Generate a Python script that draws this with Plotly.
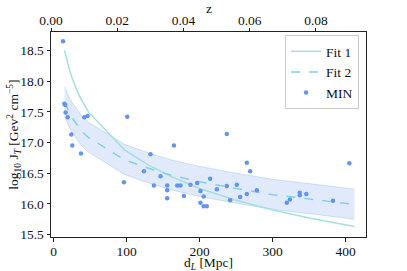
import plotly.graph_objects as go

# ---- data ----
dl_min = [12.9, 14.6, 16.0, 16.4, 19.2, 24.2, 25.6, 37.5, 42.0, 46.5, 96.3, 100.8,
          123.7, 132.7, 137.3, 146.4, 155.5, 155.5, 155.5, 164.7, 169.2, 173.7,
          178.4, 187.4, 196.6, 201.1, 201.1, 205.5, 205.5, 209.8, 214.4, 223.5,
          237.2, 237.2, 241.7, 250.9, 255.4, 264.6, 264.6, 269.1, 278.3, 319.3,
          323.6, 337.1, 337.1, 346.1, 382.6, 405.0]
logj_min = [18.65, 17.63, 17.61, 17.49, 17.41, 17.13, 16.95, 16.82, 17.41, 17.43, 16.35, 17.42,
            16.53, 16.81, 16.30, 16.45, 16.30, 16.22, 16.09, 16.95, 16.30, 16.30,
            16.13, 16.31, 16.34, 16.21, 16.02, 16.12, 15.96, 15.96, 16.41, 16.24,
            17.14, 16.29, 16.06, 16.31, 16.11, 16.67, 16.16, 16.53, 16.22, 16.02,
            16.07, 16.18, 16.14, 16.16, 16.05, 16.66]

dl_fit = [15, 17, 19, 22, 26, 31, 37, 43, 48, 97, 130, 160, 200, 250, 300, 350, 412]
fit1 = [18.50, 18.40, 18.30, 18.17, 18.03, 17.87, 17.72, 17.59, 17.49, 16.88, 16.63,
        16.45, 16.25, 16.06, 15.90, 15.77, 15.63]
fit2 = [17.66, 17.60, 17.54, 17.47, 17.39, 17.30, 17.21, 17.13, 17.08, 16.72, 16.58,
        16.47, 16.36, 16.25, 16.15, 16.08, 15.99]
fit2_hi = [17.91, 17.85, 17.79, 17.72, 17.64, 17.55, 17.46, 17.38, 17.33, 16.97, 16.83,
           16.72, 16.61, 16.50, 16.40, 16.33, 16.24]
fit2_lo = [17.42, 17.36, 17.30, 17.23, 17.15, 17.06, 16.97, 16.89, 16.84, 16.48, 16.34,
           16.23, 16.12, 16.01, 15.91, 15.84, 15.75]

y_ticks = [15.5, 16.0, 16.5, 17.0, 17.5, 18.0, 18.5]
x_ticks = [0, 100, 200, 300, 400]
z_ticks = [0.00, 0.02, 0.04, 0.06, 0.08]

FONT = "Liberation Serif"
FS = 13.5
BAND = "rgba(100,149,237,0.2)"

fig = go.Figure()

# confidence band
fig.add_trace(go.Scatter(x=dl_fit, y=fit2_lo, mode="lines",
                         line=dict(color="rgba(100,149,237,0.25)", width=1),
                         showlegend=False, hoverinfo="skip"))
fig.add_trace(go.Scatter(x=dl_fit, y=fit2_hi, mode="lines", fill="tonexty",
                         fillcolor=BAND,
                         line=dict(color="rgba(100,149,237,0.25)", width=1),
                         showlegend=False, hoverinfo="skip"))

fig.add_trace(go.Scatter(x=dl_fit, y=fit1, mode="lines", name="Fit 1",
                         line=dict(color="#a4e0dc", width=1.5)))
fig.add_trace(go.Scatter(x=dl_fit, y=fit2, mode="lines", name="Fit 2",
                         line=dict(color="#87ceeb", width=1.5, dash="dash")))
fig.add_trace(go.Scatter(x=dl_min, y=logj_min, mode="markers", name="MIN",
                         marker=dict(color="#6495ed", size=4.5)))

# dummy trace for the top (redshift) axis
fig.add_trace(go.Scatter(x=[0.0], y=[None], xaxis="x2", mode="markers",
                         showlegend=False, hoverinfo="skip"))

axis_common = dict(showgrid=False, zeroline=False, showline=True, automargin=False,
                   linecolor="#222", linewidth=1, ticks="outside", ticklen=3.5,
                   tickwidth=1, tickcolor="#222",
                   tickfont=dict(family=FONT, size=FS, color="#111"))

fig.update_layout(
    width=407, height=271,
    margin=dict(l=51, r=41, t=32, b=34, autoexpand=False),
    paper_bgcolor="white", plot_bgcolor="white",
    font=dict(family=FONT, size=FS, color="#111"),
    xaxis=dict(range=[-3.6, 427.8], tickvals=x_ticks, ticklabelstandoff=-2,
               **axis_common),
    xaxis2=dict(range=[0, 0.0951], overlaying="x", side="top",
                tickvals=z_ticks, tickformat=".2f", ticklabelstandoff=-3,
                **axis_common),
    yaxis=dict(range=[15.46, 18.80], tickvals=y_ticks, tickformat=".1f",
               mirror=True, **axis_common),
    legend=dict(x=0.978, xanchor="right", y=0.985, yanchor="top",
                traceorder="normal",
                bgcolor="rgba(255,255,255,0.85)", bordercolor="#cccccc",
                borderwidth=1, font=dict(family=FONT, size=FS),
                itemwidth=30),
    showlegend=True,
    annotations=[
        dict(text="d<sub><i>L</i></sub> [Mpc]", xref="paper", yref="paper",
             x=0.5, y=-0.13, xanchor="center", yanchor="middle",
             showarrow=False, font=dict(family=FONT, size=FS)),
        dict(text="z", xref="paper", yref="paper",
             x=0.5, y=1.115, xanchor="center", yanchor="middle",
             showarrow=False, font=dict(family=FONT, size=FS)),
        dict(text="log<sub>10</sub> J<sub><i>T</i></sub> [Gev<sup>2</sup> cm<sup>−5</sup>]",
             xref="paper", yref="paper", x=-0.117, y=0.5, textangle=-90,
             xanchor="center", yanchor="middle",
             showarrow=False, font=dict(family=FONT, size=FS)),
    ],
)

fig.write_html("out.html", config={"displayModeBar": False},
               post_script="document.body.style.margin='0';document.body.style.padding='0';")
